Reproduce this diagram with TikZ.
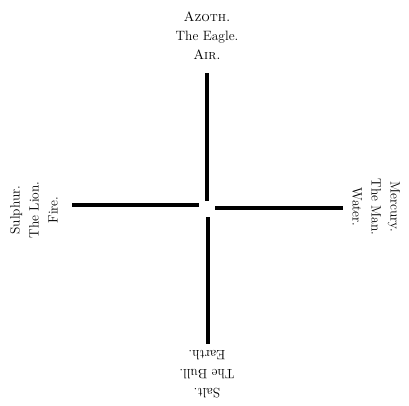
\documentclass[tikz,border=0pt]{standalone}

\begin{document}
\begin{tikzpicture}[x=1pt,y=-1pt,
                    arm/.style={line width=3.6pt},
                    word/.style={align=center,inner sep=0pt,
                                 font=\fontsize{13.5}{19}\selectfont}]
  \useasboundingbox (0,0) rectangle (409,405);
  % the four names
  \node[word] (air) at (207,36) {\textsc{Azoth.}\\The Eagle.\\\textsc{Air.}};
  \node[word,rotate=90] (fire) at (34,210) {Sulphur.\\The Lion.\\Fire.};
  \node[word,rotate=-90] (water) at (376,207) {Mercury.\\The Man.\\Water.};
  \node[word,rotate=180] (earth) at (207,374) {Salt.\\The Bull.\\Earth.};
  % the cross
  \coordinate (topend) at (207,73);
  \coordinate (topin) at (207,201);
  \coordinate (botin) at (208,217);
  \coordinate (botend) at (208,344);
  \coordinate (leftend) at (72,205);
  \coordinate (leftin) at (199,205);
  \coordinate (rightin) at (215,208);
  \coordinate (rightend) at (343,208);
  \draw[arm] (topend) -- (topin);
  \draw[arm] (botin) -- (botend);
  \draw[arm] (leftend) -- (leftin);
  \draw[arm] (rightin) -- (rightend);
\end{tikzpicture}
\end{document}
